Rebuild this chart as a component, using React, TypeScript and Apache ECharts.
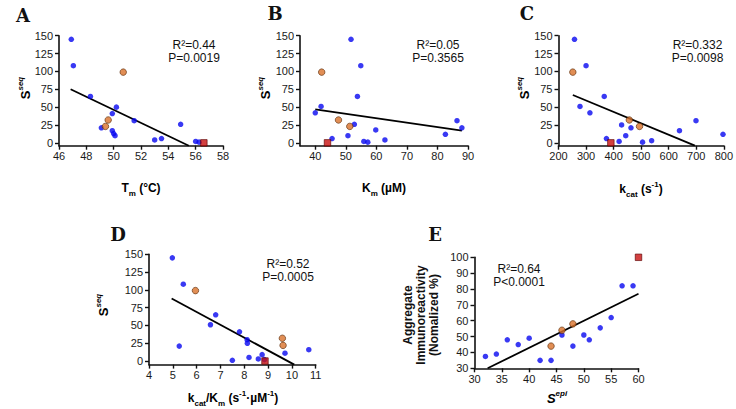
import React, { useEffect, useRef } from 'react';
import * as echarts from 'echarts';

// Panel A: S^seq vs Tm
const tmBlue = [[46.9,145],[47.05,108],[48.3,65],[50.2,50],[49.9,41],[49.1,21],[49.9,17],[50.0,13],[50.1,10],[51.5,31],[53.0,4],[53.5,6],[54.9,26],[56.0,2],[56.25,1]];
const tmOrange = [[50.7,99],[49.6,32],[49.4,23]];
const tmRed = [[56.6,0]];
const tmFit = [[46.85,75],[55.5,-4]];

// Panel B: S^seq vs Km
const kmBlue = [[51.7,145],[54.9,108],[53.8,65],[41.9,51],[40.0,42],[52.8,26],[59.8,18],[50.7,10],[45.5,6],[55.9,2],[57.2,1],[62.8,4],[82.6,12],[86.4,31],[88.0,21]];
const kmOrange = [[42.1,99],[47.6,32],[51.3,23]];
const kmRed = [[44.0,0]];
const kmFit = [[40,47],[88,17]];

// Panel C: S^seq vs kcat
const kcatBlue = [[258,145],[300,108],[366,65],[278,51],[314,42],[429,25],[463,21],[444,10],[374,6],[420,2],[505,1],[538,3],[639,17],[699,31],[797,12]];
const kcatOrange = [[252,99],[457,32],[494,23]];
const kcatRed = [[390,0]];
const kcatFit = [[252,67],[695,-4]];

// Panel D: S^seq vs kcat/Km
const effBlue = [[4.98,145],[5.44,108],[6.8,65],[6.58,51],[5.27,21],[7.8,41],[8.12,30],[8.13,25],[9.71,11],[10.71,16],[7.5,1],[8.2,5],[8.59,3],[8.75,9],[8.85,2]];
const effOrange = [[5.95,99],[9.6,32],[9.63,22]];
const effRed = [[8.87,0]];
const effFit = [[4.95,88],[10.1,-5]];

// Panel E: Aggregate immunoreactivity vs S^epi
const epiBlue = [[57,82],[59,82],[55,62],[53,55.5],[46,51],[50,51],[51,48],[48,44],[40,49],[38,45],[36,48],[34,39],[32,37.5],[42,35],[44,35]];
const epiOrange = [[48,58],[46,54],[44,44]];
const epiRed = [[60,100]];
const epiFit = [[32.4,30],[60,77]];

const seqTicks = [0, 25, 50, 75, 100, 125, 150];
const kmTicks = [40, 50, 60, 70, 80, 90];

const stats = [
  { r: 'R²=0.44', p: 'P=0.0019' },
  { r: 'R²=0.05', p: 'P=0.3565' },
  { r: 'R²=0.332', p: 'P=0.0098' },
  { r: 'R²=0.52', p: 'P=0.0005' },
  { r: 'R²=0.64', p: 'P<0.0001' },
];

const FONT = '"Liberation Sans", Arial, Helvetica, sans-serif';
const SERIF = '"DejaVu Serif", "Liberation Serif", serif';
const BLUE = '#0808f0';
const ORANGE = '#d9722a';
const RED = '#c81010';

const axisLine = { show: true, onZero: false, lineStyle: { color: '#111', width: 1.6 } };
const tickStyle = { show: true, length: 4, lineStyle: { color: '#111', width: 1.4 } };
const labelStyle = { color: '#1a1a1a', fontSize: 11, fontFamily: FONT };

function xAx(gi: number, min: number, max: number, interval?: number, custom?: number[]) {
  const o: any = {
    type: 'value', gridIndex: gi, min, max,
    axisLine, splitLine: { show: false },
    axisTick: { ...tickStyle },
    axisLabel: { ...labelStyle, margin: 5 },
  };
  if (interval) o.interval = interval;
  if (custom) {
    o.axisTick.customValues = custom;
    o.axisLabel.customValues = custom;
  }
  return o;
}
function yAx(gi: number, min: number, max: number, interval?: number, custom?: number[]) {
  const o: any = {
    type: 'value', gridIndex: gi, min, max,
    axisLine, splitLine: { show: false },
    axisTick: { ...tickStyle },
    axisLabel: { ...labelStyle, margin: 6 },
  };
  if (interval) o.interval = interval;
  if (custom) {
    o.axisTick.customValues = custom;
    o.axisLabel.customValues = custom;
  }
  return o;
}

function panelSeries(i: number, blue: number[][], orange: number[][], red: number[][], fit: number[][]) {
  return [
    { type: 'line', xAxisIndex: i, yAxisIndex: i, data: fit, symbol: 'none', lineStyle: { color: '#000', width: 1.8 }, z: 2, silent: true },
    { type: 'scatter', xAxisIndex: i, yAxisIndex: i, data: blue, symbol: 'circle', symbolSize: 5.5, itemStyle: { color: BLUE }, clip: false, z: 3 },
    { type: 'scatter', xAxisIndex: i, yAxisIndex: i, data: orange, symbol: 'circle', symbolSize: 6.5, itemStyle: { color: ORANGE, borderColor: '#5a2a08', borderWidth: 0.8 }, clip: false, z: 4 },
    { type: 'scatter', xAxisIndex: i, yAxisIndex: i, data: red, symbol: 'rect', symbolSize: 6.5, itemStyle: { color: RED, borderColor: '#5a0000', borderWidth: 0.8 }, clip: false, z: 5 },
  ];
}

const richBase = {
  b: { fontSize: 13, fontWeight: 'bold', fontFamily: FONT, lineHeight: 18, color: '#111' },
  bi: { fontSize: 13, fontWeight: 'bold', fontStyle: 'italic', fontFamily: FONT, lineHeight: 18, color: '#111' },
  n: { fontSize: 12, fontWeight: 'bold', fontFamily: FONT, lineHeight: 18, color: '#111' },
  sup: { fontSize: 8, fontWeight: 'bold', fontStyle: 'italic', fontFamily: FONT, lineHeight: 10, verticalAlign: 'top', color: '#111' },
  supn: { fontSize: 8, fontWeight: 'bold', fontFamily: FONT, lineHeight: 10, verticalAlign: 'top', color: '#111' },
  sub: { fontSize: 8, fontWeight: 'bold', fontFamily: FONT, lineHeight: 10, verticalAlign: 'bottom', color: '#111' },
};

function txt(x: number, y: number, text: string, extra: any = {}) {
  return {
    type: 'text', x, y, rotation: extra.rotation || 0, z: 10,
    style: {
      text, fontFamily: FONT, fontSize: 12, fill: '#111',
      align: 'center', verticalAlign: 'middle', ...(extra.style || {}),
    },
  };
}
function rich(x: number, y: number, text: string, rotation = 0) {
  return {
    type: 'text', x, y, rotation, z: 10,
    style: { text, rich: richBase, align: 'center', verticalAlign: 'middle', fontFamily: FONT },
  };
}
function letter(x: number, y: number, t: string) {
  return txt(x, y, t, { style: { fontFamily: SERIF, fontWeight: 'bold', fontSize: 18 } });
}

export default function App() {
  const ref = useRef<HTMLDivElement>(null);
  useEffect(() => {
    if (!ref.current) return;
    const chart = echarts.init(ref.current, undefined, { renderer: 'svg' });
    const grids = [
      { left: 59, top: 35.7, width: 164, height: 110 },
      { left: 300, top: 35.7, width: 168, height: 110 },
      { left: 558.5, top: 35.7, width: 166, height: 110 },
      { left: 149, top: 254.3, width: 166.7, height: 110.3 },
      { left: 474.5, top: 257.3, width: 164, height: 111 },
    ];
    const graphics: any[] = [
      letter(23, 15, 'A'), letter(275, 13, 'B'), letter(527, 13, 'C'), letter(118, 234, 'D'), letter(435, 234, 'E'),
      rich(25, 88, '{b|S}{sup|seq}', Math.PI / 2),
      rich(265, 88, '{b|S}{sup|seq}', Math.PI / 2),
      rich(524, 88, '{b|S}{sup|seq}', Math.PI / 2),
      rich(103, 305, '{b|S}{sup|seq}', Math.PI / 2),
      txt(421, 315, 'Aggregate\nImmunoreactivity\n(Nomalized %)', { rotation: Math.PI / 2, style: { fontWeight: 'bold', fontSize: 12, lineHeight: 13 } }),
      rich(141, 188, '{n|T}{sub|m}{n| (°C)}'),
      rich(384, 188, '{n|K}{sub|m}{n| (µM)}'),
      rich(641, 189, '{n|k}{sub|cat}{n| (s}{supn|-1}{n|)}'),
      rich(233, 398, '{n|k}{sub|cat}{n|/K}{sub|m}{n| (s}{supn|-1}{n|·µM}{supn|-1}{n|)}'),
      rich(557, 398, '{bi|S}{sup|epi}'),
    ];
    const statPos = [[194, 45, 58], [438, 45, 58], [697.5, 45, 58], [288, 264, 277], [519, 268.5, 282]];
    stats.forEach((s, i) => {
      const [x, y1, y2] = statPos[i];
      graphics.push(txt(x, y1, s.r), txt(x, y2, s.p));
    });

    chart.setOption({
      animation: false,
      backgroundColor: '#fff',
      grid: grids,
      xAxis: [
        xAx(0, 46, 58, 2),
        xAx(1, 35, 90, undefined, kmTicks),
        xAx(2, 200, 800, 100),
        xAx(3, 4, 11, 1),
        xAx(4, 30, 60, 5),
      ],
      yAxis: [
        yAx(0, -4, 150, undefined, seqTicks),
        yAx(1, -4, 150, undefined, seqTicks),
        yAx(2, -4, 150, undefined, seqTicks),
        yAx(3, -5, 150, undefined, seqTicks),
        yAx(4, 30, 100, 10),
      ],
      series: [
        ...panelSeries(0, tmBlue, tmOrange, tmRed, tmFit),
        ...panelSeries(1, kmBlue, kmOrange, kmRed, kmFit),
        ...panelSeries(2, kcatBlue, kcatOrange, kcatRed, kcatFit),
        ...panelSeries(3, effBlue, effOrange, effRed, effFit),
        ...panelSeries(4, epiBlue, epiOrange, epiRed, epiFit),
      ],
      graphic: graphics,
    });
    return () => chart.dispose();
  }, []);
  return (
    <div ref={ref} style={{ position: 'absolute', left: 0, top: 0, width: 736, height: 409, background: '#fff' }} />
  );
}
